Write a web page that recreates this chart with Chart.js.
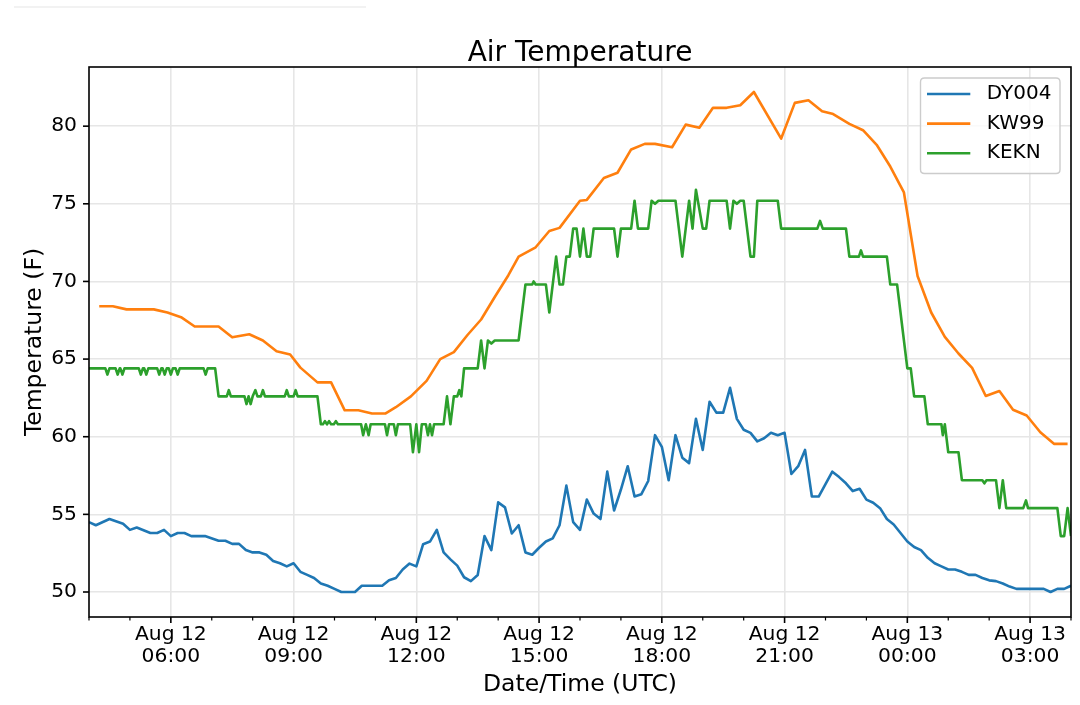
<!DOCTYPE html>
<html><head><meta charset="utf-8">
<script src="https://cdn.jsdelivr.net/npm/chart.js@4.4.0/dist/chart.umd.min.js"></script>
<style>html,body{margin:0;padding:0;background:#fff;}canvas{display:block;}</style>
</head><body>
<canvas id="c" width="1080" height="705"></canvas>
<script>
const chartTitle = "Air Temperature";
const xAxisTitle = "Date/Time (UTC)";
const yAxisTitle = "Temperature (F)";
const seriesNames = ["DY004", "KW99", "KEKN"];
const seriesColors = ["#1f77b4", "#ff7f0e", "#2ca02c"];

// Times are minutes after Aug 12 00:00 UTC
const dy004Minutes = [240,250,270,290,300,310,330,340,350,360,370,380,390,410,430,440,450,460,470,480,490,500,510,520,530,540,550,560,570,580,590,600,610,630,640,670,680,690,700,710,720,730,740,750,760,770,780,790,800,810,820,830,840,850,860,870,880,890,900,910,920,930,940,950,960,970,980,990,1000,1010,1020,1030,1040,1050,1060,1070,1080,1090,1100,1110,1120,1130,1140,1150,1160,1170,1180,1190,1200,1210,1220,1230,1240,1250,1260,1270,1280,1290,1300,1310,1320,1330,1340,1350,1360,1370,1380,1390,1400,1410,1420,1430,1440,1450,1460,1470,1480,1490,1500,1510,1520,1530,1540,1550,1560,1570,1580,1590,1600,1640,1650,1660,1670,1680];
const dy004Temps = [54.5,54.3,54.7,54.4,54.0,54.15,53.8,53.8,54.0,53.6,53.8,53.8,53.6,53.6,53.3,53.3,53.1,53.1,52.7,52.55,52.55,52.4,52.0,51.85,51.65,51.85,51.3,51.1,50.9,50.55,50.4,50.2,50.0,50.0,50.4,50.4,50.75,50.9,51.45,51.83,51.65,53.08,53.25,54.0,52.55,52.1,51.7,50.95,50.7,51.1,53.6,52.7,55.77,55.45,53.77,54.3,52.55,52.4,52.85,53.25,53.45,54.3,56.85,54.5,54.0,55.95,55.05,54.7,57.75,55.25,56.6,58.1,56.15,56.3,57.15,60.1,59.35,57.2,60.1,58.65,58.3,61.15,59.15,62.25,61.55,61.55,63.15,61.15,60.45,60.25,59.7,59.9,60.25,60.1,60.25,57.6,58.1,59.15,56.15,56.15,56.95,57.75,57.4,57.0,56.5,56.65,55.95,55.75,55.4,54.7,54.35,53.8,53.25,52.9,52.7,52.2,51.85,51.65,51.45,51.45,51.3,51.1,51.1,50.9,50.75,50.7,50.55,50.35,50.2,50.2,50.0,50.2,50.2,50.4];

const kw99Minutes = [255,275,295,335,355,375,395,430,450,475,495,515,535,550,575,595,615,635,655,675,690,712,735,755,775,795,815,835,855,870,895,915,930,960,970,995,1015,1035,1055,1070,1095,1115,1135,1155,1175,1195,1215,1255,1275,1295,1315,1330,1355,1375,1395,1415,1435,1455,1475,1495,1515,1535,1555,1575,1595,1615,1635,1655,1675];
const kw99Temps = [68.4,68.4,68.2,68.2,68.0,67.7,67.1,67.1,66.4,66.6,66.2,65.5,65.3,64.45,63.5,63.5,61.7,61.7,61.5,61.5,61.9,62.6,63.6,65.0,65.45,66.55,67.55,69.0,70.4,71.6,72.2,73.25,73.45,75.2,75.25,76.66,77.0,78.5,78.86,78.86,78.64,80.1,79.9,81.18,81.18,81.35,82.2,79.2,81.5,81.67,80.96,80.8,80.15,79.74,78.8,77.4,75.73,70.35,68.0,66.43,65.36,64.43,62.62,62.94,61.74,61.37,60.29,59.54,59.54];

const keknMinutes = [240,264,267,270,279,282,285,286,289,292,313,316,319,321,324,327,340,343,346,348,351,354,357,360,363,367,370,373,408,411,414,425,430,442,445,448,468,471,474,477,480,484,487,492,495,498,527,530,533,540,543,546,575,580,583,586,589,592,595,599,602,605,639,642,646,650,653,674,677,680,687,690,693,711,715,720,724,728,734,737,740,743,746,760,765,770,775,780,783,786,790,810,815,820,825,830,835,870,880,890,892,895,910,915,925,930,935,940,945,950,955,960,965,970,975,980,1010,1015,1020,1035,1040,1045,1060,1065,1070,1075,1100,1110,1120,1125,1130,1140,1145,1150,1175,1180,1185,1190,1195,1200,1210,1215,1220,1250,1255,1308,1312,1316,1350,1355,1369,1372,1375,1410,1415,1425,1430,1440,1445,1450,1465,1470,1490,1492,1495,1500,1515,1520,1550,1553,1556,1570,1575,1580,1585,1610,1614,1617,1660,1665,1670,1675,1680];
const keknTemps = [64.4,64.4,64.0,64.4,64.4,64.0,64.4,64.4,64.0,64.4,64.4,64.0,64.4,64.4,64.0,64.4,64.4,64.0,64.4,64.4,64.0,64.4,64.4,64.0,64.4,64.4,64.0,64.4,64.4,64.0,64.4,64.4,62.6,62.6,63.0,62.6,62.6,62.1,62.6,62.1,62.6,63.0,62.6,62.6,63.0,62.6,62.6,63.0,62.6,62.6,63.0,62.6,62.6,60.8,60.8,61.0,60.8,61.0,60.8,60.8,61.0,60.8,60.8,60.1,60.8,60.1,60.8,60.8,60.1,60.8,60.8,60.1,60.8,60.8,59.0,60.8,59.0,60.8,60.8,60.1,60.8,60.1,60.8,60.8,62.6,60.8,62.6,62.6,63.0,62.6,64.4,64.4,66.2,64.4,66.2,66.0,66.2,66.2,69.8,69.8,70.0,69.8,69.8,68.0,71.6,69.8,69.8,71.6,71.6,73.4,73.4,71.6,73.4,71.6,71.6,73.4,73.4,71.6,73.4,73.4,75.2,73.4,73.4,75.2,75.0,75.2,75.2,71.6,75.2,73.4,75.9,73.4,73.4,75.2,75.2,73.4,75.2,75.0,75.2,75.2,71.6,71.6,75.2,75.2,73.4,73.4,73.9,73.4,73.4,71.6,71.6,72.0,71.6,71.6,69.8,69.8,68.0,64.4,64.4,62.6,62.6,60.8,60.8,60.1,60.8,59.0,59.0,57.2,57.2,57.0,57.2,57.2,55.4,57.2,55.4,55.4,55.9,55.4,55.4,53.6,53.6,55.4,53.6];

const xTickMinutes = [360, 540, 720, 900, 1080, 1260, 1440, 1620];
const xTickLabels = [["Aug 12","06:00"],["Aug 12","09:00"],["Aug 12","12:00"],["Aug 12","15:00"],["Aug 12","18:00"],["Aug 12","21:00"],["Aug 13","00:00"],["Aug 13","03:00"]];
const yTickValues = [50, 55, 60, 65, 70, 75, 80];
const xRange = [240, 1680];
const yRange = [48.39, 83.81];

const FONT = "'DejaVu Sans', 'Liberation Sans', sans-serif";
const GRID = '#e6e6e6';

function pts(ms, vs) { return ms.map((m, i) => ({x: m, y: vs[i]})); }

const decor = {
  id: 'decor',
  beforeDraw(chart) {
    const ctx = chart.ctx;
    ctx.save();
    ctx.strokeStyle = '#eeeeee'; ctx.lineWidth = 1.5;
    ctx.beginPath(); ctx.moveTo(14, 7); ctx.lineTo(366, 7); ctx.stroke();
    ctx.restore();
  },
  afterDatasetsDraw(chart) {
    const {ctx, chartArea: a, scales: {x, y}} = chart;
    ctx.save();
    ctx.strokeStyle = '#000';
    for (let m = xRange[0]; m <= xRange[1]; m += 60) {
      const major = xTickMinutes.includes(m);
      const px = x.getPixelForValue(m);
      ctx.lineWidth = major ? 1.6 : 1.2;
      ctx.beginPath(); ctx.moveTo(px, a.bottom); ctx.lineTo(px, a.bottom + (major ? 6 : 3.5)); ctx.stroke();
    }
    ctx.lineWidth = 1.6;
    yTickValues.forEach(v => {
      const py = y.getPixelForValue(v);
      ctx.beginPath(); ctx.moveTo(a.left, py); ctx.lineTo(a.left - 6, py); ctx.stroke();
    });
    ctx.lineWidth = 1.6;
    ctx.strokeRect(a.left, a.top, a.right - a.left, a.bottom - a.top);

    // legend
    ctx.font = '20px ' + FONT;
    const maxW = Math.max(...seriesNames.map(s => ctx.measureText(s).width));
    const bw = 6.5 + 43.3 + 16.5 + maxW + 8.5;
    const bh = 95.5;
    const bx = a.right - 11 - bw, by = a.top + 11;
    const r = 4;
    ctx.beginPath();
    ctx.moveTo(bx + r, by); ctx.lineTo(bx + bw - r, by); ctx.quadraticCurveTo(bx + bw, by, bx + bw, by + r);
    ctx.lineTo(bx + bw, by + bh - r); ctx.quadraticCurveTo(bx + bw, by + bh, bx + bw - r, by + bh);
    ctx.lineTo(bx + r, by + bh); ctx.quadraticCurveTo(bx, by + bh, bx, by + bh - r);
    ctx.lineTo(bx, by + r); ctx.quadraticCurveTo(bx, by, bx + r, by);
    ctx.closePath();
    ctx.fillStyle = 'rgba(255,255,255,0.8)'; ctx.fill();
    ctx.strokeStyle = '#cccccc'; ctx.lineWidth = 1.4; ctx.stroke();
    chart.data.datasets.forEach((ds, i) => {
      const ry = by + 16 + i * 29.6;
      ctx.strokeStyle = ds.borderColor; ctx.lineWidth = 2.6;
      ctx.beginPath(); ctx.moveTo(bx + 6.5, ry); ctx.lineTo(bx + 6.5 + 43.3, ry); ctx.stroke();
      ctx.fillStyle = '#000'; ctx.textAlign = 'left'; ctx.textBaseline = 'middle';
      ctx.fillText(ds.label, bx + 6.5 + 43.3 + 16.5, ry);
    });

    // chart title
    ctx.font = '28px ' + FONT;
    ctx.fillStyle = '#000'; ctx.textAlign = 'center'; ctx.textBaseline = 'alphabetic';
    ctx.fillText(chartTitle, (a.left + a.right) / 2, 61);
    ctx.restore();
  }
};

const seriesMinutes = [dy004Minutes, kw99Minutes, keknMinutes];
const seriesTemps = [dy004Temps, kw99Temps, keknTemps];

new Chart(document.getElementById('c'), {
  type: 'line',
  data: {
    datasets: seriesNames.map((n, i) => ({
      label: n,
      data: pts(seriesMinutes[i], seriesTemps[i]),
      borderColor: seriesColors[i],
      backgroundColor: seriesColors[i],
      borderWidth: 2.6,
      pointRadius: 0,
      tension: 0,
      fill: false,
      borderJoinStyle: 'round',
      borderCapStyle: 'butt'
    }))
  },
  options: {
    responsive: false,
    animation: false,
    devicePixelRatio: 1,
    parsing: false,
    normalized: true,
    layout: {padding: {top: 67, right: 9, left: 0, bottom: 0}},
    plugins: {legend: {display: false}, title: {display: false}, tooltip: {enabled: false}},
    scales: {
      x: {
        type: 'linear', min: xRange[0], max: xRange[1],
        afterBuildTicks: ax => { ax.ticks = xTickMinutes.map(v => ({value: v})); },
        afterFit: ax => { ax.height = 88; },
        grid: {color: GRID, lineWidth: 1.6, drawTicks: false},
        border: {display: false},
        ticks: {
          autoSkip: false, maxRotation: 0, minRotation: 0, padding: 6, color: '#000',
          font: {family: FONT, size: 20.3, lineHeight: 1.12},
          callback: v => { const i = xTickMinutes.indexOf(v); return i >= 0 ? xTickLabels[i] : ''; }
        },
        title: {display: true, text: xAxisTitle, color: '#000', font: {family: FONT, size: 23.5, lineHeight: 1.2}, padding: {top: 0, bottom: 5.9}}
      },
      y: {
        type: 'linear', min: yRange[0], max: yRange[1],
        afterBuildTicks: ax => { ax.ticks = yTickValues.map(v => ({value: v})); },
        afterFit: ax => { ax.width = 89; },
        grid: {color: GRID, lineWidth: 1.6, drawTicks: false},
        border: {display: false},
        ticks: {padding: 12, color: '#000', font: {family: FONT, size: 20.3}, callback: v => String(v)},
        title: {display: true, text: yAxisTitle, color: '#000', font: {family: FONT, size: 23.5, lineHeight: 1.2}, padding: {top: 20.9, bottom: 0}}
      }
    }
  },
  plugins: [decor]
});
</script>
</body></html>
